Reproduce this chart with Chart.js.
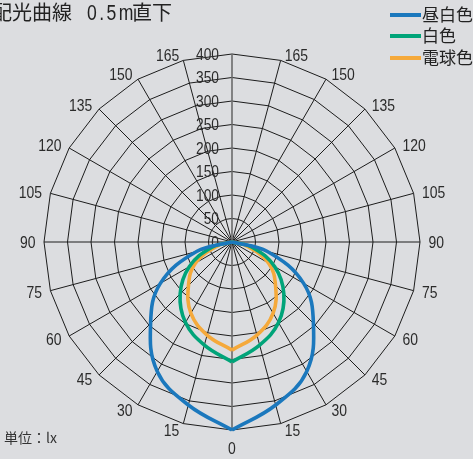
<!DOCTYPE html>
<html>
<head>
<meta charset="utf-8">
<script src="https://cdn.jsdelivr.net/npm/chart.js@4"></script>
<style>
  html, body { margin: 0; padding: 0; background: #dcdde0; width: 473px; height: 459px; overflow: hidden; }
  #wrap { position: relative; width: 473px; height: 459px; }
  #chart { position: absolute; left: 0; top: 0; }
  .t { position: absolute; top: 2px; font-family: 'Noto Sans CJK JP', sans-serif; font-size: 20px; line-height: 20px; color: #222; white-space: nowrap; }
  .t.num { font-family: 'Liberation Sans', Arial, sans-serif; font-size: 22px; letter-spacing: 3px; transform: scaleX(0.8); transform-origin: 0 0; top: 3px; }
  .legend { position: absolute; left: 390px; top: 0; font-family: 'Noto Sans CJK JP', sans-serif; font-size: 17px; color: #222; }
  .legend .row { position: absolute; left: 0; height: 20px; line-height: 20px; white-space: nowrap; }
  .legend .sw { position: absolute; left: 0; top: 8px; width: 31px; height: 4px; }
  .legend .tx { position: absolute; left: 32px; top: -1px; }
  .unit { position: absolute; left: 4px; top: 428px; font-family: 'Noto Sans CJK JP', sans-serif; font-size: 14px; line-height: 18px; color: #333; white-space: nowrap; }
</style>
</head>
<body>
<div id="wrap">
  <canvas id="chart" width="473" height="459"></canvas>
  <div class="t" style="left:-8px">配光曲線</div>
  <div class="t num" style="left:87px">0.5m</div>
  <div class="t" style="left:132px">直下</div>
  <div class="legend" id="legend"></div>
  <div class="unit">単位：lx</div>
</div>
<script>
// Angular labels, clockwise from the top (180°) – right side goes down to 0°, left side back up.
const angleLabels = ['', '165', '150', '135', '120', '105', '90', '75', '60', '45', '30', '15',
                     '0', '15', '30', '45', '60', '75', '90', '105', '120', '135', '150', '165'];
// Radial tick values (lx)
const tickValues = [0, 50, 100, 150, 200, 250, 300, 350, 400];

// Illuminance (lx) at each angular label position
const dayWhite = [0, 0, 0, 0, 0, 0, 0, 78, 176, 245, 318, 359, 400, 359, 318, 245, 176, 78, 0, 0, 0, 0, 0, 0];
const white    = [0, 0, 0, 0, 0, 0, 0, 45, 105, 156, 198, 227, 255, 227, 198, 156, 105, 45, 0, 0, 0, 0, 0, 0];
const bulb     = [0, 0, 0, 0, 0, 0, 0, 32, 90, 131, 175, 205, 230, 205, 175, 131, 90, 32, 0, 0, 0, 0, 0, 0];

const seriesNames  = ['昼白色', '白色', '電球色'];
const seriesData   = [dayWhite, white, bulb];
const seriesColors = ['#1b78bd', '#00a479', '#f5a93b'];

// legend (HTML text)
const legendEl = document.getElementById('legend');
const legendRowsY = [5, 26, 47.5];
seriesNames.forEach((name, i) => {
  const row = document.createElement('div');
  row.className = 'row';
  row.style.top = legendRowsY[i] + 'px';
  row.innerHTML = '<span class="sw" style="background:' + seriesColors[i] + '"></span><span class="tx">' + name + '</span>';
  legendEl.appendChild(row);
});

function half(arr, from, to) {
  return arr.map((v, i) => (i >= from && i <= to) ? v : null);
}

// two halves per series so the curve keeps its point at 0° and at the centre
const datasets = [];
for (let s = seriesNames.length - 1; s >= 0; s--) {
  [[6, 12], [12, 18]].forEach(([a, b]) => {
    datasets.push({
      label: seriesNames[s],
      data: half(seriesData[s], a, b),
      borderColor: seriesColors[s],
      backgroundColor: seriesColors[s],
      borderWidth: 3.6,
      fill: false,
      spanGaps: false,
      tension: 0.4,
      pointRadius: 0,
      order: s
    });
  });
}

const labelFont = "17px 'Liberation Sans', Arial, sans-serif";
const tickFont = "16px 'Liberation Sans', Arial, sans-serif";

function squashText(ctx, text, x, y, sx) {
  ctx.save();
  ctx.translate(x, y);
  ctx.scale(sx, 1);
  ctx.fillText(text, 0, 0);
  ctx.restore();
}

const polarText = {
  id: 'polarText',
  beforeDatasetsDraw(chart) {
    const sc = chart.scales.r;
    const ctx = chart.ctx;
    ctx.save();
    ctx.fillStyle = '#2b2b2b';
    // radial tick labels, left of the vertical axis
    ctx.font = tickFont;
    ctx.textAlign = 'right';
    ctx.textBaseline = 'middle';
    tickValues.forEach(v => {
      const d = sc.getDistanceFromCenterForValue(v);
      squashText(ctx, String(v), sc.xCenter - 13, sc.yCenter - d + 1.5, 0.86);
    });
    // angular labels
    ctx.font = labelFont;
    angleLabels.forEach((lab, i) => {
      if (!lab) return;
      const p = sc.getPointPosition(i, sc.drawingArea + 6);
      const dx = p.x - sc.xCenter;
      if (Math.abs(dx) < 1) {
        ctx.textAlign = 'center';
        squashText(ctx, lab, p.x, p.y + 13, 0.82);
      } else if (dx > 0) {
        ctx.textAlign = 'left';
        squashText(ctx, lab, p.x + 2.5, p.y + 1.5, 0.82);
      } else {
        ctx.textAlign = 'right';
        squashText(ctx, lab, p.x - 2.5, p.y + 1.5, 0.82);
      }
    });
    ctx.restore();
  }
};

new Chart(document.getElementById('chart'), {
  type: 'radar',
  data: { labels: angleLabels, datasets: datasets },
  options: {
    responsive: false,
    animation: false,
    layout: { padding: { left: 44, right: 53, top: 54, bottom: 29 } },
    plugins: { legend: { display: false }, tooltip: { enabled: false } },
    scales: {
      r: {
        min: 0,
        max: 400,
        startAngle: 0,
        ticks: { display: false, stepSize: 50 },
        pointLabels: { display: false },
        grid: { circular: false, color: '#1c1c1c', lineWidth: 1 },
        angleLines: {
          display: true,
          color: c => (c.index === 0 || c.index === 12) ? '#6b6b6b' : '#1c1c1c',
          lineWidth: c => (c.index === 0 || c.index === 12) ? 1.6 : 1
        }
      }
    }
  },
  plugins: [polarText]
});
</script>
</body>
</html>
